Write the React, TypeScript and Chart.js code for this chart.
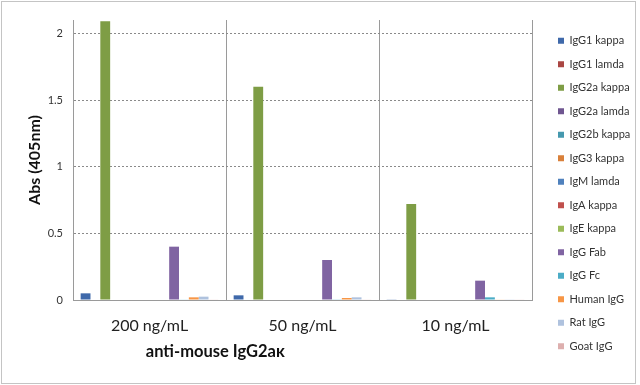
import React, { useEffect, useRef } from "react";
import { Chart, registerables } from "chart.js";

Chart.register(...registerables);

const categories = ["200 ng/mL", "50 ng/mL", "10 ng/mL"];
const seriesNames = [
  "IgG1 kappa",
  "IgG1 lamda",
  "IgG2a kappa",
  "IgG2a lamda",
  "IgG2b kappa",
  "IgG3 kappa",
  "IgM lamda",
  "IgA kappa",
  "IgE kappa",
  "IgG Fab",
  "IgG Fc",
  "Human IgG",
  "Rat IgG",
  "Goat IgG",
];
const igg1Kappa = [0.05, 0.035, 0.005];
const igg1Lamda = [0, 0, 0];
const igg2aKappa = [2.09, 1.6, 0.72];
const igg2aLamda = [0, 0, 0];
const igg2bKappa = [0, 0, 0];
const igg3Kappa = [0, 0, 0];
const igmLamda = [0, 0, 0];
const igaKappa = [0, 0, 0];
const igeKappa = [0, 0, 0];
const iggFab = [0.4, 0.3, 0.145];
const iggFc = [0.003, 0.005, 0.02];
const humanIgg = [0.02, 0.015, 0.003];
const ratIgg = [0.025, 0.02, 0.005];
const goatIgg = [0.003, 0.003, 0.003];
const seriesValues = [
  igg1Kappa, igg1Lamda, igg2aKappa, igg2aLamda, igg2bKappa, igg3Kappa, igmLamda,
  igaKappa, igeKappa, iggFab, iggFc, humanIgg, ratIgg, goatIgg,
];
const seriesColors = [
  "#3F69AA", "#AA4643", "#7E9D45", "#6F5690", "#4598AE", "#D9803A", "#4F81BD",
  "#C0504D", "#9BBB59", "#8064A2", "#4BACC6", "#F79646", "#AFC2DE", "#DDAFAE",
];
const yTicks = [0, 0.5, 1, 1.5, 2];
const yMax = 2.1;
const yTitle = "Abs (405nm)";
const xTitle = "anti-mouse IgG2a\u03BA";

const FONT = "Lato, 'Open Sans', sans-serif";

const framePlugin = {
  id: "frame",
  beforeDraw(chart: any) {
    const { ctx, width, height } = chart;
    ctx.save();
    ctx.fillStyle = "#ffffff";
    ctx.fillRect(0, 0, width, height);
    ctx.strokeStyle = "#C4C4C4";
    ctx.lineWidth = 1;
    ctx.strokeRect(1.5, 1.5, 634, 382);
    ctx.restore();
  },
};

const layoutPlugin = {
  id: "legendLayout",
  beforeLayout(chart: any) {
    const lg = chart.legend;
    if (lg && !lg._patchedFit) {
      const orig = lg.fit.bind(lg);
      lg.fit = () => {
        orig();
        lg.width = 108;
      };
      lg._patchedFit = true;
    }
  },
  afterLayout(chart: any) {
    const lg = chart.legend;
    if (lg) {
      lg.left += 13.5;
      lg.right += 13.5;
      lg.top -= 9;
      lg.bottom -= 9;
    }
  },
};

const xTitlePlugin = {
  id: "xTitle",
  afterDraw(chart: any) {
    const { ctx, chartArea } = chart;
    ctx.save();
    ctx.font = `bold 16.5px ${FONT}`;
    ctx.fillStyle = "#111";
    ctx.textAlign = "center";
    ctx.textBaseline = "middle";
    ctx.fillText(
      xTitle,
      chartArea.left + (chartArea.right - chartArea.left) * 0.31,
      chartArea.bottom + 52
    );
    ctx.restore();
  },
};

export default function App() {
  const ref = useRef<HTMLCanvasElement | null>(null);

  useEffect(() => {
    if (!ref.current) return;
    const chart = new Chart(ref.current, {
      type: "bar",
      data: {
        labels: categories,
        datasets: seriesNames.map((name, i) => ({
          label: name,
          data: seriesValues[i],
          backgroundColor: seriesColors[i],
          borderWidth: 0,
          categoryPercentage: 0.9,
          barPercentage: 1.0,
        })),
      },
      options: {
        animation: false,
        responsive: false,
        devicePixelRatio: 1,
        layout: { padding: { top: 20, left: 0, right: 0, bottom: 0 } },
        plugins: {
          tooltip: { enabled: false },
          title: { display: false },
          legend: {
            position: "right",
            align: "center",
            labels: {
              boxWidth: 6,
              boxHeight: 6,
              padding: 12.5,
              color: "#333",
              font: { family: FONT, size: 11 },
            },
          },
        },
        scales: {
          x: {
            grid: {
              display: true,
              offset: true,
              color: "#9A9A9A",
              drawTicks: false,
              lineWidth: 1,
            },
            border: { display: true, color: "#9A9A9A", width: 1 },
            ticks: {
              color: "#222",
              padding: 16,
              font: { family: FONT, size: 16 },
              maxRotation: 0,
            },
            afterFit: (scale: any) => {
              scale.height = 85;
            },
          },
          y: {
            min: 0,
            max: yMax,
            afterBuildTicks: (scale: any) => {
              scale.ticks = yTicks.map((v) => ({ value: v }));
            },
            ticks: {
              color: "#333",
              padding: 10,
              font: { family: FONT, size: 11 },
              callback: (v: any) => String(v),
            },
            grid: {
              drawTicks: false,
              color: (ctx: any) =>
                ctx.tick && ctx.tick.value === 0 ? "rgba(0,0,0,0)" : "#8A8A8A",
              lineWidth: 1,
            },
            border: { display: true, color: "#9A9A9A", width: 1, dash: [2, 2] },
            title: {
              display: true,
              text: yTitle,
              color: "#111",
              font: { family: FONT, size: 16, weight: "bold" },
              padding: { top: 25, bottom: 0 },
            },
            afterFit: (scale: any) => {
              scale.width = 73;
            },
          },
        },
      },
      plugins: [framePlugin, layoutPlugin, xTitlePlugin],
    } as any);
    return () => chart.destroy();
  }, []);

  return (
    <div style={{ position: "absolute", left: 0, top: 0, width: 640, height: 385 }}>
      <canvas ref={ref} width={640} height={385} />
    </div>
  );
}
